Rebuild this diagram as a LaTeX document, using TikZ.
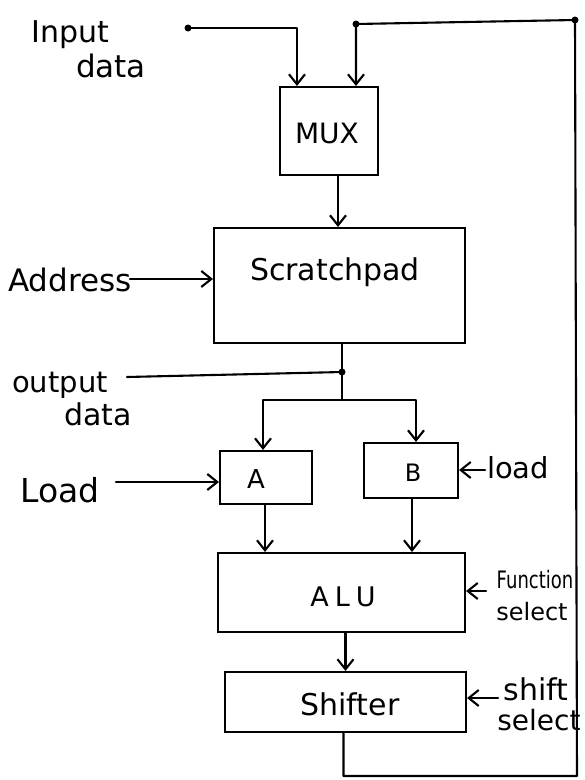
\documentclass[tikz,border=0pt]{standalone}
\usepackage{fontspec}
\setmainfont{DejaVu Sans}
\usetikzlibrary{arrows.meta}
\newcommand\myfs[1]{\fontsize{#1}{#1}\selectfont}
\begin{document}
\begin{tikzpicture}[x=1pt,y=-1pt,
  wire/.style={line width=2.1pt, line cap=round, line join=round},
  arr/.style={-{Straight Barb[length=10pt,width=16pt]}},
  box/.style={draw, line width=2.1pt, inner sep=0pt},
  lbl/.style={anchor=base, inner sep=0pt},
  jdot/.style={circle, fill, inner sep=0pt, minimum size=7pt}]
\useasboundingbox (0,0) rectangle (585,780);

% boxes
\node[box, minimum width=98pt, minimum height=88pt] (mux) at (329,131) {};
\node[box, minimum width=251pt, minimum height=115pt] (scratch) at (339.5,285.5) {};
\node[box, minimum width=92pt, minimum height=53pt] (A) at (266,477.5) {};
\node[box, minimum width=94pt, minimum height=55pt] (B) at (411,470.5) {};
\node[box, minimum width=247pt, minimum height=79pt] (alu) at (341.5,592.5) {};
\node[box, minimum width=241pt, minimum height=60pt] (shifter) at (345.5,702) {};

% box texts
\node[lbl] (muxt) at (327,143) {\myfs{28}MUX};
\node[lbl] (scratcht) at (335,280) {\myfs{30}Scratchpad};
\node[lbl] (At) at (256,488) {\myfs{26}A};
\node[lbl] (Bt) at (413,481) {\myfs{24}B};
\node[lbl] (alut) at (343,606) {\myfs{27}A\hspace{6pt}L\hspace{6pt}U};
\node[lbl] (shiftert) at (350,715) {\myfs{30}Shifter};

% outside labels
\node[lbl] (inp1) at (70,42) {\myfs{30}Input};
\node[lbl] (inp2) at (111,77) {\myfs{31}data};
\node[lbl] (addr) at (70,291) {\myfs{31}Address};
\node[lbl] (out1) at (60,392) {\myfs{29}output};
\node[lbl] (out2) at (98,425) {\myfs{30}data};
\node[lbl] (loadA) at (60,502) {\myfs{33}Load};
\node[lbl] (loadB) at (518,478) {\myfs{29}load};
\node[lbl] (fn1) at (535,588) {\myfs{24}\scalebox{0.75}[1]{Function}};
\node[lbl] (fn2) at (532,620) {\myfs{24}select};
\node[lbl] (sh1) at (536,700) {\myfs{30}shift};
\node[lbl] (sh2) at (539,730) {\myfs{28}select};

% named points
\coordinate (in1) at (188,28);
\coordinate (fbtl) at (356,24);
\coordinate (fbtr) at (575,20);
\coordinate (fbbr) at (577,776);
\coordinate (odot) at (342,372);
\coordinate (split) at (342,400);
\coordinate (ostart) at (127,377);
\coordinate (astart) at (130,279);
\coordinate (lstart) at (116,482);
\coordinate (bstart) at (485,470);
\coordinate (fsel) at (486,591);
\coordinate (ssel) at (498,698);

% connectors
\draw[wire,arr] (in1) -| ([xshift=-32pt]mux.north);
\draw[wire,arr] ([xshift=-2pt]shifter.south) |- (fbbr) -- (fbtr) -- (fbtl) -- (fbtl |- mux.north);
\draw[wire,arr] ([xshift=9pt]mux.south) -- ([xshift=9pt]mux.south |- scratch.north);
\draw[wire,arr] (astart) -- (astart -| scratch.west);
\draw[wire] (odot |- scratch.south) -- (split);
\draw[wire] (ostart) -- (odot);
\draw[wire,arr] (split) -| ([xshift=-3pt]A.north);
\draw[wire,arr] (split) -| ([xshift=5pt]B.north);
\draw[wire,arr] (lstart) -- (lstart -| A.west);
\draw[wire,arr] (bstart) -- (bstart -| B.east);
\draw[wire,arr] ([xshift=-1pt]A.south) -- ([xshift=-1pt]A.south |- alu.north);
\draw[wire,arr] ([xshift=1pt]B.south) -- ([xshift=1pt]B.south |- alu.north);
\draw[wire,arr] (fsel) -- (fsel -| alu.east);
\draw[wire,arr] ([xshift=4pt]alu.south) -- ([xshift=4pt]alu.south |- shifter.north);
\draw[wire,arr] (ssel) -- (ssel -| shifter.east);

% dots
\node[jdot] (d1) at (in1) {};
\node[jdot] (d2) at (fbtl) {};
\node[jdot] (d3) at (fbtr) {};
\node[jdot] (d4) at (odot) {};
\end{tikzpicture}
\end{document}
